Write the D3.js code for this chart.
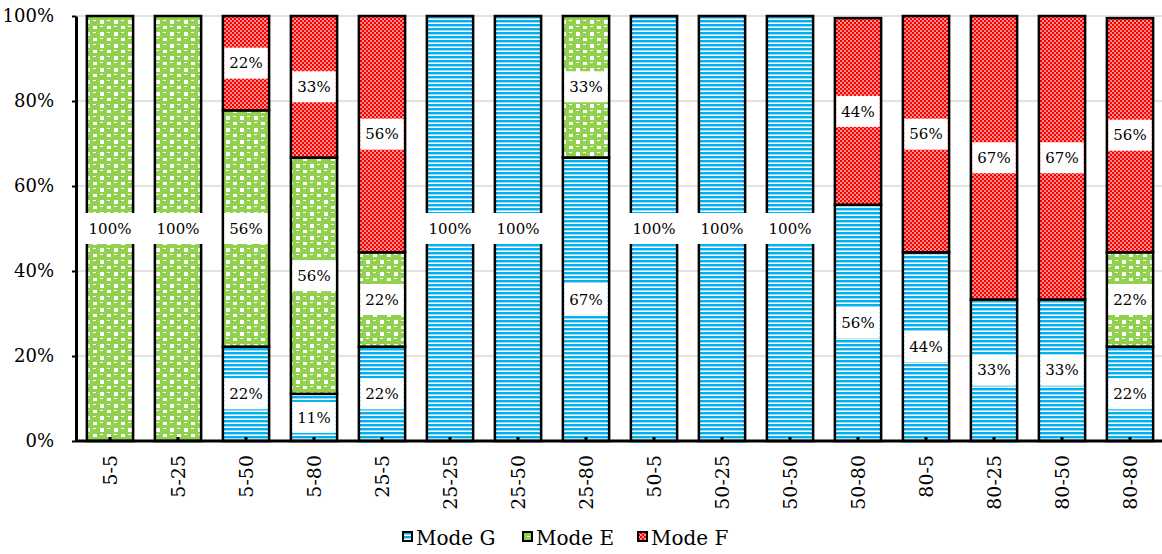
<!DOCTYPE html>
<html><head><meta charset="utf-8">
<script src="https://cdn.jsdelivr.net/npm/d3@7"></script>
<style>body{margin:0;background:#fff}svg{display:block}</style>
</head><body>
<script>
const categories = ["5-5","5-25","5-50","5-80","25-5","25-25","25-50","25-80","50-5","50-25","50-50","50-80","80-5","80-25","80-50","80-80"];
const seriesNames = ["Mode G","Mode E","Mode F"];
const modeG = [0,0,22.2,11.1,22.2,100,100,66.7,100,100,100,55.6,44.4,33.3,33.3,22.2];
const modeE = [100,100,55.6,55.6,22.2,0,0,33.3,0,0,0,0,0,0,0,22.2];
const modeF = [0,0,22.2,33.3,55.6,0,0,0,0,0,0,43.9,55.6,66.7,66.7,55.1];
const labelsG = ["","","22%","11%","22%","100%","100%","67%","100%","100%","100%","56%","44%","33%","33%","22%"];
const labelsE = ["100%","100%","56%","56%","22%","","","33%","","","","","","","","22%"];
const labelsF = ["","","22%","33%","56%","","","","","","","44%","56%","67%","67%","56%"];
const yTicks = [0,20,40,60,80,100];

const FONT='DejaVu Serif';
const W=1162,H=554;
const svg=d3.select("body").append("svg").attr("width",W).attr("height",H).attr("font-family",FONT);
const defs=svg.append("defs");
const pG=defs.append("pattern").attr("id","pG").attr("patternUnits","userSpaceOnUse").attr("width",4).attr("height",4);
pG.append("rect").attr("width",4).attr("height",4).attr("fill","#ffffff");
pG.append("rect").attr("y",0).attr("width",4).attr("height",2).attr("fill","#00b0f0");
pG.append("rect").attr("y",2).attr("width",4).attr("height",1).attr("fill","#8fdcf8");
const pE=defs.append("pattern").attr("id","pE").attr("patternUnits","userSpaceOnUse").attr("width",14).attr("height",12);
pE.append("rect").attr("width",14).attr("height",12).attr("fill","#ffffff");
[[0,0],[7,6],[-7,6],[7,-6],[-7,-6],[14,0]].forEach(([x,y])=>{
  pE.append("rect").attr("x",x-1).attr("y",y-1).attr("width",10).attr("height",8.5).attr("rx",2.5).attr("fill","#92d050");
  pE.append("rect").attr("x",x+2).attr("y",y+2).attr("width",3).attr("height",1).attr("fill","#ffffff");
});
const pF=defs.append("pattern").attr("id","pF").attr("patternUnits","userSpaceOnUse").attr("width",4).attr("height",4);
pF.append("rect").attr("width",4).attr("height",4).attr("fill","#ff0000");
[[2,0],[0,2]].forEach(([a,b])=>
  pF.append("rect").attr("x",a).attr("y",b).attr("width",2).attr("height",2).attr("fill","#ff8c8c"));
defs.selectAll("pattern rect").attr("shape-rendering","crispEdges");

const x=d3.scaleBand().domain(categories).range([76,1164]).paddingInner(0.32).paddingOuter(0.16);
const y=d3.scaleLinear().domain([0,100]).range([441,16]);

svg.append("g").selectAll("line").data(yTicks.filter(d=>d>0)).join("line")
  .attr("x1",76).attr("x2",1162).attr("y1",d=>y(d)).attr("y2",d=>y(d))
  .attr("stroke","#d9d9d9").attr("stroke-width",1.5);

const series=[{name:"Mode G",vals:modeG,labels:labelsG,fill:"url(#pG)"},
  {name:"Mode E",vals:modeE,labels:labelsE,fill:"url(#pE)"},
  {name:"Mode F",vals:modeF,labels:labelsF,fill:"url(#pF)"}];
const segs=[];
categories.forEach((c,i)=>{
  let base=0;
  series.forEach(s=>{
    const v=s.vals[i];
    if(v>0) segs.push({c,y0:base,y1:base+v,fill:s.fill,label:s.labels[i]});
    base+=v;
  });
});
svg.append("g").selectAll("rect").data(segs).join("rect")
  .attr("x",d=>x(d.c)).attr("width",x.bandwidth())
  .attr("y",d=>y(d.y1)).attr("height",d=>y(d.y0)-y(d.y1))
  .attr("fill",d=>d.fill).attr("stroke","#000").attr("stroke-width",2.5);

const xAxis=d3.axisBottom(x).tickSize(-4).tickSizeOuter(0).tickPadding(12);
const gx=svg.append("g").attr("transform","translate(0,441)").call(xAxis).attr("font-family",FONT);
gx.select(".domain").attr("stroke","#000").attr("stroke-width",3).attr("d","M76,0H1162");
gx.selectAll(".tick line").attr("stroke","#000").attr("stroke-width",3);
gx.selectAll(".tick text").attr("font-size",19).attr("fill","#000")
  .attr("transform","rotate(-90)").attr("text-anchor","end").attr("dy","0.35em")
  .attr("x",-14).attr("y",0);
const yAxis=d3.axisLeft(y).tickValues(yTicks).tickFormat(d=>d+"%").tickSize(4).tickSizeOuter(0).tickPadding(18);
const gy=svg.append("g").attr("transform","translate(76,0)").call(yAxis).attr("font-family",FONT);
gy.select(".domain").attr("stroke","#000").attr("stroke-width",3);
gy.selectAll(".tick line").attr("stroke","#000").attr("stroke-width",2);
gy.selectAll(".tick text").attr("font-size",18).attr("fill","#000");

const lab=svg.append("g").attr("font-family",FONT);
segs.filter(d=>d.label).forEach(d=>{
  const cx=x(d.c)+x.bandwidth()/2, cy=y((d.y0+d.y1)/2);
  const g=lab.append("g");
  const t=g.append("text").attr("x",cx).attr("y",cy).attr("text-anchor","middle").attr("dy","0.35em")
    .attr("font-size",15).attr("fill","#000").text(d.label);
  const bb=t.node().getBBox();
  g.insert("rect","text").attr("x",bb.x-5).attr("y",cy-15.5).attr("width",bb.width+10).attr("height",31).attr("fill","#fff");
});

const legX=[403,523,638];
const legFill=["url(#pG)","url(#pE)","url(#pF)"];
const leg=svg.append("g");
seriesNames.forEach((n,i)=>{
  leg.append("rect").attr("x",legX[i]).attr("y",532).attr("width",9).attr("height",9)
    .attr("fill",legFill[i]).attr("stroke","#000").attr("stroke-width",2);
  leg.append("text").attr("x",legX[i]+13).attr("y",545).attr("font-size",20).attr("fill","#000").text(n);
});
</script>
</body></html>
